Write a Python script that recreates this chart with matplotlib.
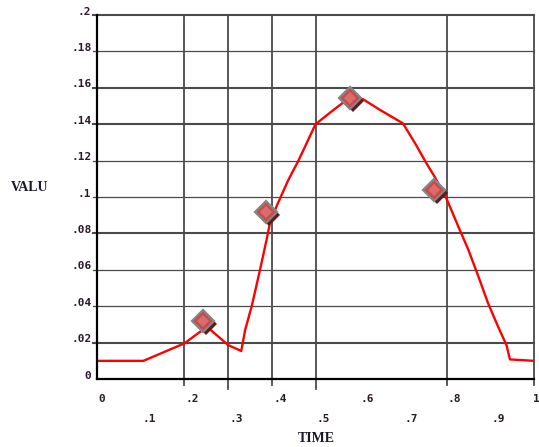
import matplotlib.pyplot as plt
from matplotlib.transforms import offset_copy, blended_transform_factory

# curve samples
time = [0.0, 0.106, 0.2, 0.236, 0.255, 0.30, 0.33, 0.339, 0.354, 0.373, 0.388,
        0.396, 0.411, 0.438, 0.461, 0.5, 0.541, 0.58, 0.609, 0.648, 0.70, 0.728,
        0.754, 0.773, 0.80, 0.827, 0.85, 0.873, 0.895, 0.918, 0.937, 0.945, 1.0]
valu = [0.010, 0.010, 0.0196, 0.026, 0.028, 0.0187, 0.0154, 0.027, 0.040, 0.060,
        0.0765, 0.086, 0.095, 0.1095, 0.120, 0.140, 0.1478, 0.155, 0.1537, 0.1478,
        0.1405, 0.1295, 0.1185, 0.111, 0.099, 0.0837, 0.0709, 0.0562, 0.0416,
        0.0287, 0.0187, 0.0108, 0.010]

# highlighted points
mark_t = [0.243, 0.387, 0.579, 0.771]
mark_v = [0.032, 0.092, 0.1545, 0.1038]

y_ticks = [0.2, 0.18, 0.16, 0.14, 0.12, 0.1, 0.08, 0.06, 0.04, 0.02, 0.0]
y_labels = ['.2', '.18', '.16', '.14', '.12', '.1', '.08', '.06', '.04', '.02', '0']
y_heavy = [0.2, 0.16, 0.14, 0.08, 0.02]

x_ticks = [0.0, 0.1, 0.2, 0.3, 0.4, 0.5, 0.6, 0.7, 0.8, 0.9, 1.0]
x_labels = ['0', '.1', '.2', '.3', '.4', '.5', '.6', '.7', '.8', '.9', '1']
x_grid = [0.2, 0.3, 0.4, 0.5, 0.8, 1.0]
x_long = [0.3, 0.5]

fig = plt.figure(figsize=(5.39, 4.47), dpi=100)
ax = fig.add_axes([0.18, 0.152, 0.8107, 0.8144])
ax.set_xlim(0, 1)
ax.set_ylim(0, 0.2)
ax.set_xticks([])
ax.set_yticks([])
for s in ['top', 'right']:
    ax.spines[s].set_visible(False)
for s in ['left', 'bottom']:
    ax.spines[s].set_linewidth(1.6)
    ax.spines[s].set_color('black')
    ax.spines[s].set_zorder(5)

grid_col = '#4a4a4a'
for v in y_ticks[:-1]:
    lw = 1.5 if v in y_heavy else 0.9
    ax.plot([-0.009, 1.0], [v, v], color=grid_col, lw=lw, clip_on=False, zorder=1)
for t in x_grid:
    low = -0.0055 if t in x_long else -0.0033
    ax.plot([t, t], [low, 0.2], color=grid_col, lw=1.3, clip_on=False, zorder=1)

ax.plot(time, valu, color='#ff0000', lw=1.7, zorder=3)

# diamond markers with a drop shadow
shadow = offset_copy(ax.transData, fig=fig, x=3, y=-3, units='dots')
ax.plot(mark_t, mark_v, 'D', ms=11.5, color='#5e1c1c', mew=0, transform=shadow, zorder=4)
ax.plot(mark_t, mark_v, 'D', ms=11.5, markerfacecolor='#c94a4a',
        markeredgecolor='#858585', mew=1.6, ls='none', zorder=4)
ax.plot(mark_t, mark_v, 'D', ms=6, color='#dc6c6c', mew=0, ls='none', zorder=4)

mono = 'DejaVu Sans Mono'
ytr = blended_transform_factory(ax.transAxes, ax.transData)
for v, lab in zip(y_ticks, y_labels):
    ax.annotate(lab, xy=(0, v), xycoords=ytr, xytext=(-4, 2.5), textcoords='offset points',
                ha='right', va='center', fontsize=8, family=mono, weight='bold',
                color='#2a1a2a')

xtr = blended_transform_factory(ax.transData, ax.transAxes)
for i, (t, lab) in enumerate(zip(x_ticks, x_labels)):
    dy = -14.5 if i % 2 == 0 else -28.5
    dx = 1 if t < 1 else -0.5
    ax.annotate(lab, xy=(t, 0), xycoords=xtr, xytext=(dx, dy), textcoords='offset points',
                ha='left', va='center', fontsize=8, family=mono, weight='bold',
                color='#2a1a2a')

fig.text(316 / 539, 1 - 438 / 447, 'TIME', ha='center', va='center',
         fontsize=10, family='Liberation Serif', weight='bold', color='#1a1a2a')
fig.text(30 / 539, 1 - 187.5 / 447, 'VALU', ha='center', va='center',
         fontsize=10, family='Liberation Serif', weight='bold', color='#1a1a2a')

fig.savefig('out.png', dpi=100)
